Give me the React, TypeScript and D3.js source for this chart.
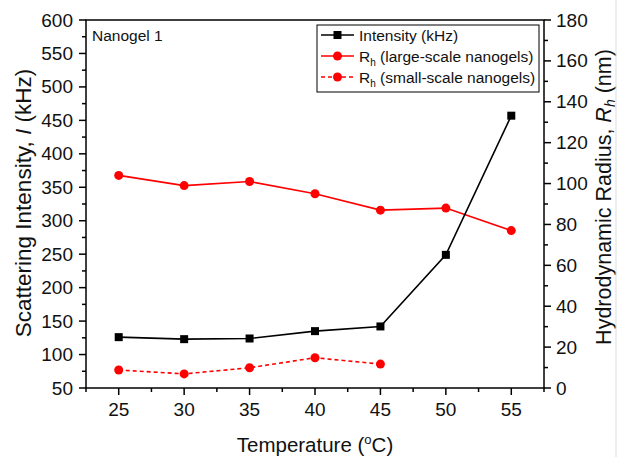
import * as d3 from 'd3';
import { useEffect, useRef } from "react";

const temps = [25, 30, 35, 40, 45, 50, 55];
const intensity = [126, 123, 124, 135, 142, 249, 457];
const rhLarge = [104, 99, 101, 95, 87, 88, 77];
const smallTemps = [25, 30, 35, 40, 45];
const rhSmall = [8.8, 6.9, 9.9, 14.8, 11.7];

const xTicks = [25, 30, 35, 40, 45, 50, 55];
const yLeftTicks = [50, 100, 150, 200, 250, 300, 350, 400, 450, 500, 550, 600];
const yRightTicks = [0, 20, 40, 60, 80, 100, 120, 140, 160, 180];

const W = 617, H = 457;
const m = { left: 86, right: 544, top: 20, bottom: 388 };
const FONT = 'Liberation Sans, Arial, sans-serif';

const App = () => {
    const svgRef = useRef(null);

    useEffect(() => {
        const svg = d3.select(svgRef.current);
        svg.selectAll('*').remove();

        const x = d3.scaleLinear().domain([22.5, 57.5]).range([m.left, m.right]);
        const yL = d3.scaleLinear().domain([50, 600]).range([m.bottom, m.top]);
        const yR = d3.scaleLinear().domain([0, 180]).range([m.bottom, m.top]);

        const g = svg.append('g').style('font-family', FONT).attr('fill', '#111');

        // frame
        g.append('rect')
            .attr('x', m.left).attr('y', m.top)
            .attr('width', m.right - m.left).attr('height', m.bottom - m.top)
            .attr('fill', 'none').attr('stroke', '#000').attr('stroke-width', 1.5);

        // bottom axis
        const xMinor = d3.range(22.5, 57.6, 2.5).filter(v => !xTicks.includes(v));
        xMinor.forEach(v => g.append('line').attr('x1', x(v)).attr('x2', x(v))
            .attr('y1', m.bottom).attr('y2', m.bottom + 4).attr('stroke', '#000').attr('stroke-width', 1.5));
        xTicks.forEach(v => {
            g.append('line').attr('x1', x(v)).attr('x2', x(v))
                .attr('y1', m.bottom).attr('y2', m.bottom + 7).attr('stroke', '#000').attr('stroke-width', 1.5);
            g.append('text').attr('x', x(v)).attr('y', 416)
                .attr('text-anchor', 'middle').attr('font-size', 19).text(v);
        });

        // left axis
        d3.range(75, 600, 50).forEach(v => g.append('line').attr('x1', m.left - 4).attr('x2', m.left)
            .attr('y1', yL(v)).attr('y2', yL(v)).attr('stroke', '#000').attr('stroke-width', 1.5));
        yLeftTicks.forEach(v => {
            g.append('line').attr('x1', m.left - 7).attr('x2', m.left)
                .attr('y1', yL(v)).attr('y2', yL(v)).attr('stroke', '#000').attr('stroke-width', 1.5);
            g.append('text').attr('x', 73).attr('y', yL(v) + 6.5)
                .attr('text-anchor', 'end').attr('font-size', 19).text(v);
        });

        // right axis
        d3.range(10, 180, 20).forEach(v => g.append('line').attr('x1', m.right).attr('x2', m.right + 4)
            .attr('y1', yR(v)).attr('y2', yR(v)).attr('stroke', '#000').attr('stroke-width', 1.5));
        yRightTicks.forEach(v => {
            g.append('line').attr('x1', m.right).attr('x2', m.right + 7)
                .attr('y1', yR(v)).attr('y2', yR(v)).attr('stroke', '#000').attr('stroke-width', 1.5);
            g.append('text').attr('x', m.right + 12).attr('y', yR(v) + 6.5)
                .attr('text-anchor', 'start').attr('font-size', 19).text(v);
        });

        // axis titles
        const xt = g.append('text').attr('x', (m.left + m.right) / 2).attr('y', 452)
            .attr('text-anchor', 'middle').attr('font-size', 20.5);
        xt.append('tspan').text('Temperature (');
        xt.append('tspan').attr('font-size', 13).attr('dy', -8).text('o');
        xt.append('tspan').attr('dy', 8).text('C)');

        const ylt = g.append('text')
            .attr('transform', 'translate(31,203) rotate(-90)')
            .attr('text-anchor', 'middle').attr('font-size', 22.5);
        ylt.append('tspan').text('Scattering Intensity, ');
        ylt.append('tspan').attr('font-style', 'italic').text('I');
        ylt.append('tspan').text(' (kHz)');

        const yrt = g.append('text')
            .attr('transform', 'translate(611,197) rotate(-90)')
            .attr('text-anchor', 'middle').attr('font-size', 21.5);
        yrt.append('tspan').text('Hydrodynamic Radius, ');
        yrt.append('tspan').attr('font-style', 'italic').text('R');
        yrt.append('tspan').attr('font-style', 'italic').attr('font-size', 14).attr('dy', 4).text('h');
        yrt.append('tspan').attr('dy', -4).text(' (nm)');

        // series
        const lineL = d3.line().x(d => x(d[0])).y(d => yL(d[1]));
        const lineR = d3.line().x(d => x(d[0])).y(d => yR(d[1]));

        const intData = temps.map((t, i) => [t, intensity[i]]);
        const largeData = temps.map((t, i) => [t, rhLarge[i]]);
        const smallData = smallTemps.map((t, i) => [t, rhSmall[i]]);

        g.append('path').datum(largeData).attr('d', lineR)
            .attr('fill', 'none').attr('stroke', '#ff0000').attr('stroke-width', 1.6);
        g.append('path').datum(smallData).attr('d', lineR)
            .attr('fill', 'none').attr('stroke', '#ff0000').attr('stroke-width', 1.6)
            .attr('stroke-dasharray', '4,3');
        g.append('path').datum(intData).attr('d', lineL)
            .attr('fill', 'none').attr('stroke', '#000').attr('stroke-width', 1.6);

        g.selectAll('.cl').data(largeData).enter().append('circle')
            .attr('cx', d => x(d[0])).attr('cy', d => yR(d[1])).attr('r', 4.5).attr('fill', '#ff0000');
        g.selectAll('.cs').data(smallData).enter().append('circle')
            .attr('cx', d => x(d[0])).attr('cy', d => yR(d[1])).attr('r', 4.5).attr('fill', '#ff0000');
        g.selectAll('.sq').data(intData).enter().append('rect')
            .attr('x', d => x(d[0]) - 4).attr('y', d => yL(d[1]) - 4)
            .attr('width', 8).attr('height', 8).attr('fill', '#000');

        // annotation
        g.append('text').attr('x', 92).attr('y', 41).attr('font-size', 15.5).text('Nanogel 1');

        // legend
        const lg = g.append('g');
        lg.append('rect').attr('x', 317).attr('y', 25).attr('width', 222).attr('height', 67)
            .attr('fill', '#fff').attr('stroke', '#000').attr('stroke-width', 1);
        const items = [
            { color: '#000', dash: null, shape: 'square', label: ['Intensity (kHz)'] },
            { color: '#ff0000', dash: null, shape: 'circle', label: ['R', 'h', ' (large-scale nanogels)'] },
            { color: '#ff0000', dash: '4,3', shape: 'circle', label: ['R', 'h', ' (small-scale nanogels)'] },
        ];
        items.forEach((it, i) => {
            const cy = 35 + i * 21;
            lg.append('line').attr('x1', 321).attr('x2', 354).attr('y1', cy).attr('y2', cy)
                .attr('stroke', it.color).attr('stroke-width', 1.6)
                .attr('stroke-dasharray', it.dash);
            if (it.shape === 'square') {
                lg.append('rect').attr('x', 333.5).attr('y', cy - 4).attr('width', 8).attr('height', 8).attr('fill', it.color);
            } else {
                lg.append('circle').attr('cx', 337.5).attr('cy', cy).attr('r', 4.5).attr('fill', it.color);
            }
            const t = lg.append('text').attr('x', 359).attr('y', cy + 5.5).attr('font-size', 15.5);
            if (it.label.length === 1) {
                t.text(it.label[0]);
            } else {
                t.append('tspan').text(it.label[0]);
                t.append('tspan').attr('font-size', 10).attr('dy', 4).text(it.label[1]);
                t.append('tspan').attr('dy', -4).text(it.label[2]);
            }
        });

        // faint image edge
        g.append('line').attr('x1', 616).attr('x2', 616).attr('y1', 0).attr('y2', H)
            .attr('stroke', '#ddd').attr('stroke-width', 1);
    }, []);

    return (
        <svg ref={svgRef} width={W} height={H}
            style={{ position: 'absolute', left: 0, top: 0, background: '#fff' }} />
    );
}

export default App;
